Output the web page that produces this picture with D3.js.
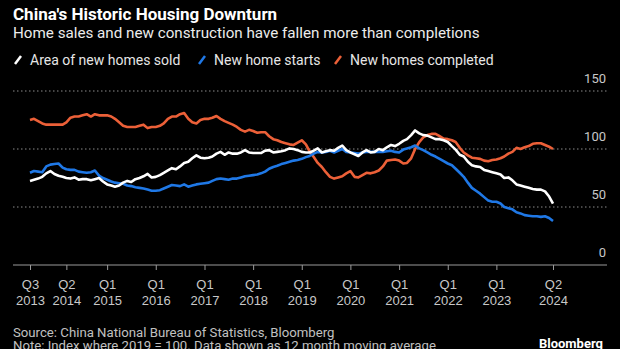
<!DOCTYPE html>
<html>
<head>
<meta charset="utf-8">
<script src="https://cdn.jsdelivr.net/npm/d3@7"></script>
<style>
  body { margin: 0; background: #000; }
  svg { display: block; font-family: Roboto, "Liberation Sans", sans-serif; }
</style>
</head>
<body>
<div id="chart"></div>
<script>
// monthly series, 12 month moving average, index 2019 = 100
var firstMonth = "2013-06-01";

var soldIndex = [
  72.5, 73.5, 74.5, 76, 79, 81, 78.5, 77, 76, 75,
  74.5, 75.5, 73.5, 74, 74, 73, 74, 75, 72, 69.5,
  68.5, 67.5, 68.5, 71, 72.5, 71.5, 74, 75, 76.5, 78.5,
  75.5, 76, 77.5, 79.5, 81.5, 83.5, 82.5, 85, 88, 89,
  92, 94.5, 92.5, 92, 92.5, 93.5, 96, 97.5, 95, 97,
  96, 96, 97, 99, 97, 96.5, 96.5, 96.5, 98.5, 99,
  97, 97.5, 98, 99, 100.5, 100, 99, 97.5, 97, 97,
  98.5, 100.5, 97, 98, 99, 98.5, 101, 103, 99, 97,
  95.5, 94, 97, 99, 97, 97.5, 100, 99, 101.5, 103.5,
  102.5, 104.5, 107, 108.5, 112, 116, 113.5, 112, 111.5, 110,
  108.5, 108.5, 107.5, 106, 102.5, 99.5, 95, 93.5, 89, 86,
  85, 84.5, 82, 81, 80, 79, 78, 75, 75.5, 73,
  69.5, 68.5, 67.5, 66.5, 65.5, 65, 65, 63.5, 59, 53
];

var startsIndex = [
  79.5, 81, 80.5, 80, 85, 86.5, 87, 87.5, 84, 82.5,
  82, 82, 80.5, 80, 79.5, 80, 81.5, 77, 75, 73.5,
  72, 71, 70.5, 70, 68.5, 68, 67, 66.5, 66, 65,
  64, 64, 64.5, 66, 67.5, 69, 68.5, 68, 69.5, 67.5,
  68.5, 69.5, 70, 70.5, 71, 72.5, 74, 74.5, 74, 73.5,
  74.5, 74.5, 75.5, 76.5, 77, 77.5, 78, 79, 80.5, 83,
  84.5, 85.5, 87, 88, 89, 90, 90.5, 91.5, 93, 94,
  96, 97.5, 97, 97.5, 98.5, 97, 98.5, 100, 97.5, 97,
  96.5, 96, 97, 97.5, 97.5, 97.5, 97.5, 97.5, 98, 98.5,
  97.5, 97, 99.5, 100.5, 101.5, 103, 100.5, 99, 97, 95,
  93.5, 91.5, 89.5, 87.5, 86, 83, 79.5, 76, 71, 66.5,
  64, 61.5, 58.5, 55.5, 54.5, 54.5, 53, 50, 49, 48,
  45.5, 44.5, 43, 42.5, 42, 42, 41.5, 42, 40.5, 38
];

var completedIndex = [
  125, 126, 124, 122, 121, 121, 121, 121, 121, 123,
  127, 128, 128, 129, 130, 128, 130, 129, 129, 129,
  128, 126, 123, 120, 119, 119, 119, 120, 121, 118,
  119, 119, 120, 122, 126, 128, 128, 130, 131, 126,
  123, 122, 125, 126, 126, 127, 128.5, 126, 124, 122.5,
  121, 119, 116.5, 115, 116.5, 115.5, 114, 114.5, 114.5, 111,
  108.5, 107.5, 106, 105, 104, 103.5, 105.5, 107.5, 104, 98,
  93, 88, 84.5, 80, 76, 74.5, 75.5, 76.5, 79, 81,
  76, 75.5, 77.5, 79.5, 79, 80, 81.5, 85, 90, 90.5,
  91, 90, 87.5, 88, 92, 100, 106, 110, 112, 113,
  113, 111, 109, 108.5, 107.5, 106, 101, 97, 94.5, 92.5,
  92, 91.5, 90, 89.5, 90.5, 91, 92, 93.5, 96, 97.5,
  101, 100, 101.5, 102.5, 104.5, 105, 105, 103.5, 102, 100
];

var seriesNames = ["Area of new homes sold", "New home starts", "New homes completed"];
var seriesColors = ["#ffffff", "#1f78e6", "#ec6038"];

var tickDates = ["2013-06-01", "2014-03-01", "2015-01-01", "2016-01-01", "2017-01-01", "2018-01-01",
                 "2019-01-01", "2020-01-01", "2021-01-01", "2022-01-01", "2023-01-01", "2024-03-01"];
var tickQuarters = ["Q3", "Q2", "Q1", "Q1", "Q1", "Q1", "Q1", "Q1", "Q1", "Q1", "Q1", "Q2"];
var tickYears = ["2013", "2014", "2015", "2016", "2017", "2018", "2019", "2020", "2021", "2022", "2023", "2024"];
var yTicks = [0, 50, 100, 150];

var width = 620, height = 349;
var parse = d3.timeParse("%Y-%m-%d");
var start = parse(firstMonth);
var dates = soldIndex.map(function(d, i) { return d3.timeMonth.offset(start, i); });

var svg = d3.select("#chart").append("svg")
  .attr("width", width)
  .attr("height", height)
  .style("background", "#000");

var x = d3.scaleTime()
  .domain([start, dates[dates.length - 1]])
  .range([30, 553]);

var y = d3.scaleLinear()
  .domain([0, 150])
  .range([265, 91]);

// header
svg.append("text")
  .attr("x", 13).attr("y", 20)
  .attr("fill", "#fff")
  .style("font-size", "17px").style("font-weight", "bold")
  .text("China's Historic Housing Downturn");

svg.append("text")
  .attr("x", 13).attr("y", 38)
  .attr("fill", "#ececec")
  .style("font-size", "15.2px")
  .text("Home sales and new construction have fallen more than completions");

// legend: slash marks + labels
var legendX = [14, 198, 334];
var legend = svg.append("g").selectAll("g")
  .data(seriesNames)
  .enter().append("g")
  .attr("transform", function(d, i) { return "translate(" + legendX[i] + ",0)"; });

legend.append("line")
  .attr("x1", 1).attr("y1", 64).attr("x2", 7).attr("y2", 56)
  .attr("stroke", function(d, i) { return seriesColors[i]; })
  .attr("stroke-width", 2.5);

legend.append("text")
  .attr("x", 16).attr("y", 65)
  .attr("fill", "#e6e6e6")
  .style("font-size", "14px")
  .text(function(d) { return d; });

// grid lines and right-hand labels
var grid = svg.append("g");
grid.selectAll("line")
  .data(yTicks.filter(function(d) { return d > 0; }))
  .enter().append("line")
  .attr("x1", 13).attr("x2", 607)
  .attr("y1", function(d) { return y(d); })
  .attr("y2", function(d) { return y(d); })
  .attr("stroke", "#8a8a8a")
  .attr("stroke-width", 1)
  .attr("stroke-dasharray", "1.5,2.5");

grid.selectAll("text")
  .data(yTicks)
  .enter().append("text")
  .attr("x", 606)
  .attr("y", function(d) { return y(d) - 8; })
  .attr("text-anchor", "end")
  .attr("fill", "#c8c8c8")
  .style("font-size", "13px")
  .text(function(d) { return d; });

// x axis
var tickDateObjs = tickDates.map(parse);
var xAxis = d3.axisBottom(x)
  .tickValues(tickDateObjs)
  .tickSize(5)
  .tickFormat("");

var gx = svg.append("g")
  .attr("transform", "translate(0," + y(0) + ")")
  .call(xAxis);
gx.select(".domain").remove();
gx.selectAll(".tick line").attr("stroke", "#9a9a9a");
gx.append("line")
  .attr("x1", 13).attr("x2", 607)
  .attr("stroke", "#9a9a9a").attr("stroke-width", 1.2);

var tickText = gx.selectAll(".tick").append("text")
  .attr("fill", "#c8c8c8")
  .attr("text-anchor", "middle")
  .style("font-size", "13px");
tickText.append("tspan").attr("x", 0).attr("y", 24)
  .text(function(d, i) { return tickQuarters[i]; });
tickText.append("tspan").attr("x", 0).attr("y", 40)
  .text(function(d, i) { return tickYears[i]; });

// lines
var line = d3.line()
  .x(function(d, i) { return x(dates[i]); })
  .y(function(d) { return y(d); });

var series = [completedIndex, startsIndex, soldIndex];
var colorsDrawn = [seriesColors[2], seriesColors[1], seriesColors[0]];

svg.append("g").selectAll("path")
  .data(series)
  .enter().append("path")
  .attr("d", line)
  .attr("fill", "none")
  .attr("stroke", function(d, i) { return colorsDrawn[i]; })
  .attr("stroke-width", 2.6)
  .attr("stroke-linejoin", "round");

// footer
svg.append("text")
  .attr("x", 13).attr("y", 337)
  .attr("fill", "#c0c0c0")
  .style("font-size", "13.2px")
  .text("Source: China National Bureau of Statistics, Bloomberg");

svg.append("text")
  .attr("x", 13).attr("y", 350)
  .attr("fill", "#c0c0c0")
  .style("font-size", "13.2px")
  .text("Note: Index where 2019 = 100. Data shown as 12 month moving average");

svg.append("text")
  .attr("x", 603).attr("y", 348)
  .attr("text-anchor", "end")
  .attr("fill", "#fff")
  .style("font-size", "13px").style("font-weight", "bold")
  .text("Bloomberg");
</script>
</body>
</html>
